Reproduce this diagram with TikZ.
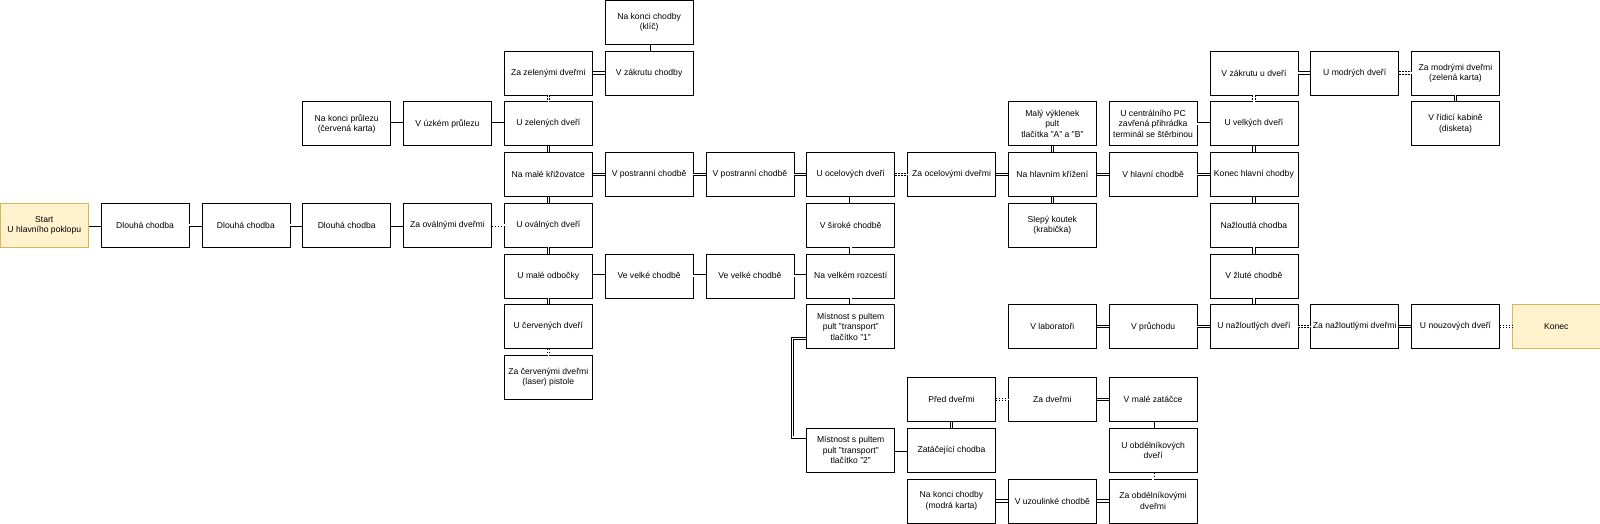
\documentclass[tikz,border=0pt]{standalone}
\usepackage{fontspec}
\setmainfont{Liberation Sans}
\usetikzlibrary{calc}
\definecolor{endfill}{HTML}{FFF2CC}
\definecolor{endline}{HTML}{D6B656}

\begin{document}
\begin{tikzpicture}[x=100.8pt,y=-50.7pt,
        room/.style={draw, line width=0.6pt, anchor=north west, minimum width=88pt, minimum height=44pt,
            inner sep=1pt, align=center, font=\fontsize{8.6}{10.4}\selectfont},
        goal/.style={room, fill=endfill, draw=endline},
        link/.style={double, double distance=1.6pt, line width=0.8pt},
        door/.style={link, dash pattern=on 1.5pt off 1.5pt}]

    \useasboundingbox (0pt,0pt) rectangle (1600pt,-523pt);

    \node[room] (Klic) at (6,0) {Na konci chodby\\(klíč)};

    \node[room] (ZaZel) at (5,1) {Za zelenými dveřmi};
    \node[room] (ZakrCh) at (6,1) {V zákrutu chodby};
    \node[room] (ZakrDv) at (12,1) {V zákrutu u dveří};
    \node[room] (UModr) at (13,1) {U modrých dveří};
    \node[room] (ZaModr) at (14,1) {Za modrými dveřmi\\(zelená karta)};

    \node[room] (Prulez) at (3,2) {Na konci průlezu\\(červená karta)};
    \node[room] (Uzky) at (4,2) {V úzkém průlezu};
    \node[room] (UZel) at (5,2) {U zelených dveří};
    \node[room] (Vyklenek) at (10,2) {Malý výklenek\\pult\\tlačítka "A" a "B"};
    \node[room] (PC) at (11,2) {U centrálního PC\\zavřená přihrádka\\terminál se štěrbinou};
    \node[room] (UVelk) at (12,2) {U velkých dveří};
    \node[room] (Kabina) at (14,2) {V řídicí kabině\\(disketa)};

    \node[room] (MalaKriz) at (5,3) {Na malé křižovatce};
    \node[room] (Postr1) at (6,3) {V postranní chodbě};
    \node[room] (Postr2) at (7,3) {V postranní chodbě};
    \node[room] (UOcel) at (8,3) {U ocelových dveří};
    \node[room] (ZaOcel) at (9,3) {Za ocelovými dveřmi};
    \node[room] (HlKriz) at (10,3) {Na hlavním křížení};
    \node[room] (HlCh) at (11,3) {V hlavní chodbě};
    \node[room] (KonecHl) at (12,3) {Konec hlavní chodby};

    \node[goal] (Start) at (0,4) {Start\\U hlavního poklopu};
    \node[room] (Dlouha1) at (1,4) {Dlouhá chodba};
    \node[room] (Dlouha2) at (2,4) {Dlouhá chodba};
    \node[room] (Dlouha3) at (3,4) {Dlouhá chodba};
    \node[room] (ZaOval) at (4,4) {Za oválnými dveřmi};
    \node[room] (UOval) at (5,4) {U oválných dveří};
    \node[room] (Siroka) at (8,4) {V široké chodbě};
    \node[room] (Koutek) at (10,4) {Slepý koutek\\(krabička)};
    \node[room] (Nazl) at (12,4) {Nažloutlá chodba};

    \node[room] (Odbocka) at (5,5) {U malé odbočky};
    \node[room] (Velka1) at (6,5) {Ve velké chodbě};
    \node[room] (Velka2) at (7,5) {Ve velké chodbě};
    \node[room] (Rozcesti) at (8,5) {Na velkém rozcestí};
    \node[room] (Zluta) at (12,5) {V žluté chodbě};

    \node[room] (UCerv) at (5,6) {U červených dveří};
    \node[room] (Pult1) at (8,6) {Místnost s pultem\\pult "transport"\\tlačítko "1"};
    \node[room] (Lab) at (10,6) {V laboratoři};
    \node[room] (Pruchod) at (11,6) {V průchodu};
    \node[room] (UNazl) at (12,6) {U nažloutlých dveří};
    \node[room] (ZaNazl) at (13,6) {Za nažloutlými dveřmi};
    \node[room] (UNouz) at (14,6) {U nouzových dveří};
    \node[goal] (Konec) at (15,6) {Konec};

    \node[room] (ZaCerv) at (5,7) {Za červenými dveřmi\\(laser) pistole};

    \node[room] (PredDv) at (9,7.44) {Před dveřmi};
    \node[room] (ZaDv) at (10,7.44) {Za dveřmi};
    \node[room] (Zatacka) at (11,7.44) {V malé zatáčce};
    \node[room] (Pult2) at (8,8.44) {Místnost s pultem\\pult "transport"\\tlačítko "2"};
    \node[room] (Zatac) at (9,8.44) {Zatáčející chodba};
    \node[room] (UObd) at (11,8.44) {U obdélníkových\\dveří};
    \node[room] (Modra) at (9,9.44) {Na konci chodby\\(modrá karta)};
    \node[room] (Uzoul) at (10,9.44) {V uzoulinké chodbě};
    \node[room] (ZaObd) at (11,9.44) {Za obdélníkovými\\dveřmi};

    \draw[link] (Start) -- (Dlouha1);
    \draw[link] (Dlouha1) -- (Dlouha2);
    \draw[link] (Dlouha2) -- (Dlouha3);
    \draw[link] (Dlouha3) -- (ZaOval);
    \draw[door] (ZaOval) -- (UOval);

    \draw[link] (Prulez) -- (Uzky);
    \draw[link] (Uzky) -- (UZel);
    \draw[link] (ZaZel) -- (ZakrCh);
    \draw[link] (Klic) -- (ZakrCh);
    \draw[door] (ZaZel) -- (UZel);

    \draw[link] (UZel) -- (MalaKriz);
    \draw[link] (MalaKriz) -- (UOval);
    \draw[link] (UOval) -- (Odbocka);
    \draw[link] (Odbocka) -- (UCerv);
    \draw[door] (UCerv) -- (ZaCerv);

    \draw[link] (MalaKriz) -- (Postr1);
    \draw[link] (Postr1) -- (Postr2);
    \draw[link] (Postr2) -- (UOcel);
    \draw[door] (UOcel) -- (ZaOcel);
    \draw[link] (ZaOcel) -- (HlKriz);
    \draw[link] (HlKriz) -- (HlCh);
    \draw[link] (HlCh) -- (KonecHl);
    \draw[link] (Vyklenek) -- (HlKriz);
    \draw[link] (HlKriz) -- (Koutek);

    \draw[link] (Odbocka) -- (Velka1);
    \draw[link] (Velka1) -- (Velka2);
    \draw[link] (Velka2) -- (Rozcesti);
    \draw[link] (UOcel) -- (Siroka);
    \draw[link] (Siroka) -- (Rozcesti);
    \draw[link] (Rozcesti) -- (Pult1);
    \draw[link] ([yshift=-12pt]Pult1.west) -- ++(-14pt,0pt) |- ([yshift=13pt]Pult2.west);

    \draw[link] (PC) -- (UVelk);
    \draw[door] (ZakrDv) -- (UVelk);
    \draw[link] (ZakrDv) -- (UModr);
    \draw[door] (UModr) -- (ZaModr);
    \draw[link] (ZaModr) -- (Kabina);
    \draw[link] (UVelk) -- (KonecHl);
    \draw[link] (KonecHl) -- (Nazl);
    \draw[link] (Nazl) -- (Zluta);
    \draw[link] (Zluta) -- (UNazl);

    \draw[link] (Lab) -- (Pruchod);
    \draw[link] (Pruchod) -- (UNazl);
    \draw[door] (UNazl) -- (ZaNazl);
    \draw[link] (ZaNazl) -- (UNouz);
    \draw[door] (UNouz) -- (Konec);

    \draw[door] (PredDv) -- (ZaDv);
    \draw[link] (ZaDv) -- (Zatacka);
    \draw[link] (PredDv) -- (Zatac);
    \draw[link] (Pult2) -- (Zatac);
    \draw[link] (Zatacka) -- (UObd);
    \draw[door] (UObd) -- (ZaObd);
    \draw[link] (Modra) -- (Uzoul);
    \draw[link] (Uzoul) -- (ZaObd);
\end{tikzpicture}
\end{document}
